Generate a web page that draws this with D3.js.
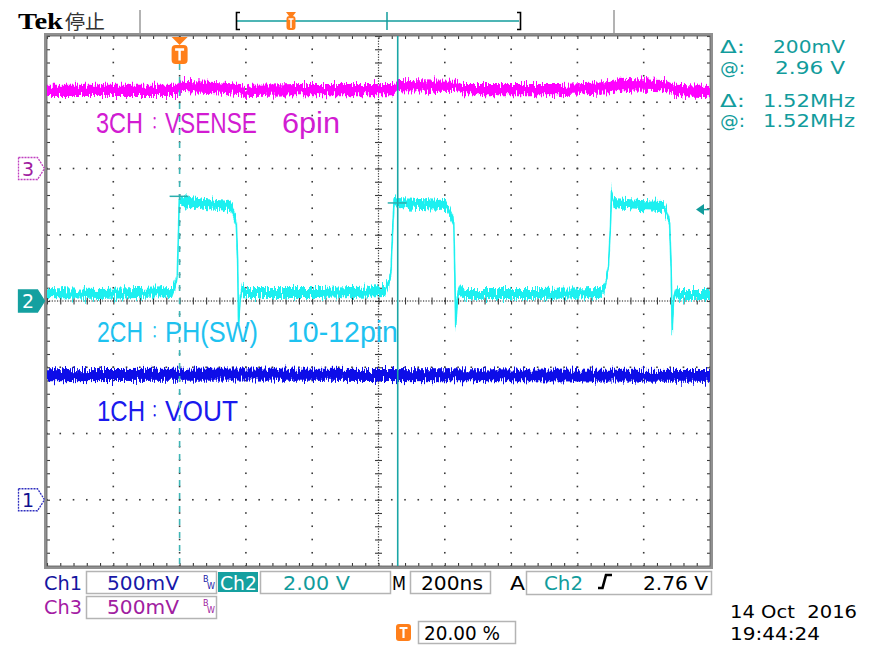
<!DOCTYPE html>
<html lang="ja">
<head>
<meta charset="utf-8">
<title>Tek TDS capture</title>
<script src="https://d3js.org/d3.v7.min.js"></script>
<style>
  html, body { margin: 0; padding: 0; background: #fff; }
  svg { display: block; }
</style>
</head>
<body>
<script>
// horizontal: 200 ns/div, 10 div, trigger position 20 %
const timeDomain = [-400, 1600];   // ns
const divDomain = [-4, 4];

// channel setup (Ch1, Ch2, Ch3) as read on the status bar
const chNames = ['Ch1', 'Ch2', 'Ch3'];
const chVoltsPerDiv = [0.5, 2.0, 0.5];
const chGroundDiv = [-3, 0, 2];
const chNoisePP = [0.09, 0.3, 0.085];   // V, thickness of the noisy trace

// CH2 : PH(SW)
const ch2Time = [-400, -239, -22, -13, -7, -4, -1, 8, 77, 153,
                 162, 171, 175, 178, 183, 189, 201, 424, 620, 632,
                 638, 642, 647, 656, 725, 803, 815, 827, 830, 833,
                 838, 845, 861, 1086, 1267, 1279, 1288, 1294, 1300, 1303,
                 1309, 1388, 1460, 1469, 1478, 1483, 1486, 1490, 1496, 1508,
                 1600];
const ch2Volt = [0.24, 0.21, 0.27, 0.51, 0.75, 1.84, 3.05, 3.02, 2.93, 2.87,
                 2.66, 2.39, 1.24, -0.75, 0.09, 0.36, 0.24, 0.24, 0.30, 0.57,
                 0.94, 1.99, 3.05, 2.96, 2.93, 2.90, 2.66, 2.39, 0.94, -0.82,
                 0.15, 0.33, 0.21, 0.21, 0.24, 0.30, 0.63, 1.09, 2.29, 3.35,
                 2.96, 2.90, 2.87, 2.66, 2.39, 0.94, -0.97, 0.03, 0.27, 0.18,
                 0.18];

// CH3 : VSENSE
const ch3Time = [-400, -5, 4, 108, 183, 201, 219, 364, 647, 659, 830, 851, 1147, 1297, 1327, 1463, 1493, 1600];
const ch3Volt = [0.589, 0.589, 0.619, 0.611, 0.596, 0.574, 0.589, 0.596, 0.596, 0.626, 0.619, 0.596, 0.596, 0.611, 0.634, 0.626, 0.589, 0.581];

// CH1 : VOUT
const ch1Time = [-400, 200, 800, 1600];
const ch1Volt = [0.94, 0.945, 0.94, 0.935];

// cursors (time cursors on Ch2) and trigger
const cursorTimes = [0, 658];         // ns
const cursorHits = [3.16, 2.96];      // V on Ch2 at each cursor
const triggerLevel = 2.76;            // V
const triggerPos = 20.00;             // %

const traceLabels = ['1CH：VOUT', '2CH：PH(SW)　10-12pin', '3CH：VSENSE　6pin'];
const dateLabel = '14 Oct  2016';
const timeLabel = '19:44:24';

const W = 872, H = 645;
const gx0 = 47, gx1 = 710, gy0 = 36, gy1 = 566;

const TEAL = '#129c9c';
const traceColors = ['#0a0ae8', '#1ef0f0', '#ff00ff'];
const labelColors = ['#1a1aee', '#1ec2f0', '#d21cd2'];
const sans = '"DejaVu Sans", "Liberation Sans", sans-serif';

const svg = d3.select('body').append('svg')
    .attr('width', W)
    .attr('height', H)
    .attr('viewBox', `0 0 ${W} ${H}`);

svg.append('rect').attr('width', W).attr('height', H).attr('fill', '#fff');

const defs = svg.append('defs');
const flt = defs.append('filter').attr('id', 'noise')
    .attr('x', '-2%').attr('y', '-60%').attr('width', '104%').attr('height', '220%');
flt.append('feTurbulence').attr('type', 'fractalNoise')
    .attr('baseFrequency', '0.9 0.06').attr('numOctaves', 2).attr('seed', 7).attr('result', 't');
flt.append('feColorMatrix').attr('in', 't').attr('type', 'matrix')
    .attr('values', '1 0 0 0 0  0 0 0 0 0.5  0 0 1 0 0  0 0 0 0 1').attr('result', 'm');
flt.append('feDisplacementMap').attr('in', 'SourceGraphic').attr('in2', 'm')
    .attr('scale', 15).attr('xChannelSelector', 'G').attr('yChannelSelector', 'R');

const x = d3.scaleLinear().domain(timeDomain).range([gx0, gx1]);
const yDiv = d3.scaleLinear().domain(divDomain).range([gy1, gy0]);
const yCh = (i, v) => yDiv(chGroundDiv[i] + v / chVoltsPerDiv[i]);

function txt(g, s, px, py, o) {
    const t = g.append('text')
        .attr('x', px).attr('y', py)
        .attr('font-family', o.family || sans)
        .attr('font-size', o.size || 18)
        .attr('font-weight', o.weight || 'normal')
        .attr('fill', o.fill || '#000')
        .style('white-space', 'pre')
        .text(s);
    if (o.len) t.attr('textLength', o.len).attr('lengthAdjust', 'spacingAndGlyphs');
    if (o.anchor) t.attr('text-anchor', o.anchor);
    return t;
}

//---- top bar
txt(svg, 'Tek', 18, 29, {family: '"Liberation Serif", serif', weight: 'bold', size: 24, len: 45});
txt(svg, '停止', 65, 29, {family: '"Noto Sans CJK JP", sans-serif', size: 19, fill: '#333', len: 40});
svg.append('line').attr('x1', 140).attr('x2', 140).attr('y1', 10).attr('y2', 33).attr('stroke', '#9a9a9a').attr('stroke-width', 1.5);
svg.append('line').attr('x1', 614).attr('x2', 614).attr('y1', 10).attr('y2', 33).attr('stroke', '#9a9a9a').attr('stroke-width', 1.5);
svg.append('line').attr('x1', 237).attr('x2', 519).attr('y1', 21).attr('y2', 21).attr('stroke', TEAL).attr('stroke-width', 1.5);
svg.append('path').attr('d', 'M240,12.5 h-3.5 v17 h3.5').attr('fill', 'none').attr('stroke', '#000').attr('stroke-width', 1.6);
svg.append('path').attr('d', 'M517,12.5 h3.5 v17 h-3.5').attr('fill', 'none').attr('stroke', '#000').attr('stroke-width', 1.6);
svg.append('line').attr('x1', 387).attr('x2', 387).attr('y1', 12).attr('y2', 30).attr('stroke', TEAL).attr('stroke-width', 1.5);
// record view trigger marker
svg.append('path').attr('d', 'M286,12 h10 l-3,4 h-4 z').attr('fill', '#ff7f1a');
svg.append('rect').attr('x', 286.5).attr('y', 16).attr('width', 9).attr('height', 14).attr('rx', 3).attr('fill', '#ff7f1a');
svg.append('path').attr('d', 'M288.5,19 h5 M291,19 v9').attr('stroke', '#fff').attr('stroke-width', 1.5);

//---- graticule
const grid = svg.append('g');
const majorT = d3.range(timeDomain[0], timeDomain[1] + 1, 200);
const minorT = d3.range(timeDomain[0], timeDomain[1] + 1, 40);
const fineT = d3.range(timeDomain[0], timeDomain[1] + 1, 8);
const majorD = d3.range(divDomain[0], divDomain[1] + 0.01, 1);
const minorD = d3.range(divDomain[0], divDomain[1] + 0.01, 0.2).map(d => +d.toFixed(2));
const fineD = d3.range(divDomain[0], divDomain[1] + 0.01, 0.04).map(d => +d.toFixed(2));
const centerT = 600;

const dots = [];
majorT.slice(1, -1).filter(t => t !== centerT).forEach(t => minorD.forEach(d => dots.push([x(t), yDiv(d)])));
majorD.slice(1, -1).filter(d => d !== 0).forEach(d => minorT.forEach(t => dots.push([x(t), yDiv(d)])));
grid.selectAll('rect.dot').data(dots).join('rect')
    .attr('class', 'dot')
    .attr('x', d => d[0] - 0.8).attr('y', d => d[1] - 0.8)
    .attr('width', 1.6).attr('height', 1.6)
    .attr('fill', '#3a3a3a');

// centre cross: dense dotted lines with minor ticks
const fineDots = [];
fineT.forEach(t => fineDots.push([x(t), yDiv(0)]));
fineD.forEach(d => fineDots.push([x(centerT), yDiv(d)]));
grid.selectAll('rect.fine').data(fineDots).join('rect')
    .attr('class', 'fine')
    .attr('x', d => d[0] - 0.6).attr('y', d => d[1] - 0.6)
    .attr('width', 1.2).attr('height', 1.2)
    .attr('fill', '#3a3a3a');

function tickAxis(axis, tx, ty) {
    const g = grid.append('g').attr('transform', `translate(${tx},${ty})`).call(axis);
    g.select('.domain').remove();
    g.selectAll('.tick line').attr('stroke', '#3a3a3a').attr('stroke-width', 1.1);
    g.selectAll('.tick text').remove();
}
tickAxis(d3.axisBottom(x).tickValues(minorT).tickSize(3.5).tickFormat(''), 0, yDiv(0));
tickAxis(d3.axisTop(x).tickValues(minorT).tickSize(3.5).tickFormat(''), 0, yDiv(0));
tickAxis(d3.axisLeft(yDiv).tickValues(minorD).tickSize(3.5).tickFormat(''), x(centerT), 0);
tickAxis(d3.axisRight(yDiv).tickValues(minorD).tickSize(3.5).tickFormat(''), x(centerT), 0);
// border ticks pointing inwards
tickAxis(d3.axisBottom(x).tickValues(minorT).tickSize(3).tickFormat(''), 0, gy0);
tickAxis(d3.axisTop(x).tickValues(minorT).tickSize(3).tickFormat(''), 0, gy1);
tickAxis(d3.axisRight(yDiv).tickValues(minorD).tickSize(3).tickFormat(''), gx0, 0);
tickAxis(d3.axisLeft(yDiv).tickValues(minorD).tickSize(3).tickFormat(''), gx1, 0);

// frame
grid.append('rect')
    .attr('x', gx0 - 1.5).attr('y', gy0 - 1.5)
    .attr('width', gx1 - gx0 + 3).attr('height', gy1 - gy0 + 3)
    .attr('fill', 'none').attr('stroke', '#909090').attr('stroke-width', 3);
grid.append('rect')
    .attr('x', gx0).attr('y', gy0)
    .attr('width', gx1 - gx0).attr('height', gy1 - gy0)
    .attr('fill', 'none').attr('stroke', '#5a5a5a').attr('stroke-width', 0.8);

//---- traces
const series = [
    {ch: 2, t: ch3Time, v: ch3Volt},
    {ch: 1, t: ch2Time, v: ch2Volt},
    {ch: 0, t: ch1Time, v: ch1Volt}
];
series.forEach(s => {
    const pts = s.t.map((t, i) => [t, s.v[i]]);
    const half = chNoisePP[s.ch] / 2;
    const area = d3.area()
        .x(d => x(d[0]))
        .y0(d => yCh(s.ch, d[1] - half))
        .y1(d => yCh(s.ch, d[1] + half));
    const line = d3.line().x(d => x(d[0])).y(d => yCh(s.ch, d[1]));
    const g = svg.append('g').attr('filter', 'url(#noise)');
    g.append('path').attr('d', area(pts)).attr('fill', traceColors[s.ch]);
    g.append('path').attr('d', line(pts)).attr('fill', 'none')
        .attr('stroke', traceColors[s.ch]).attr('stroke-width', 1.6);
});

//---- trace annotations (narrow scope font: squeeze the whole line, then place each word)
const labelY = [421, 342, 133];
const squeeze = 0.78;
const labelParts = [
    [[97, 48], [148, 0], [165, 73]],
    [[97, 46], [148, 0], [165, 93], null, [287, 111]],
    [[96, 47], [148, 0], [165, 92], null, [282, 58]]
];
[2, 1, 0].forEach(i => {
    const t = svg.append('text')
        .attr('transform', `scale(${squeeze},1)`)
        .attr('y', labelY[i])
        .attr('font-family', '"Liberation Sans", "Noto Sans CJK JP", sans-serif')
        .attr('font-size', 30)
        .attr('fill', labelColors[i])
        .style('white-space', 'pre');
    let lift = 0;
    traceLabels[i].split(/(：|　)/).forEach((part, k) => {
        const ts = t.append('tspan').text(part);
        const p = labelParts[i][k];
        if (p) ts.attr('x', p[0] / squeeze);
        if (p && p[1]) ts.attr('textLength', p[1] / squeeze).attr('lengthAdjust', 'spacingAndGlyphs');
        // full-width colon / space drawn smaller so they fit the narrow gap
        if (part === '：' || part === '　') ts.attr('font-size', 17);
        const want = part === '：' ? -4 : 0;
        if (want !== lift) { ts.attr('dy', want - lift); lift = want; }
    });
});

//---- cursors
svg.append('line')
    .attr('x1', x(cursorTimes[0])).attr('x2', x(cursorTimes[0]))
    .attr('y1', gy0 + 28).attr('y2', gy1)
    .attr('stroke', '#3fb5b5').attr('stroke-width', 1.6).attr('stroke-dasharray', '6 7');
svg.append('line')
    .attr('x1', x(cursorTimes[1])).attr('x2', x(cursorTimes[1]))
    .attr('y1', gy0).attr('y2', gy1)
    .attr('stroke', '#1aa6a6').attr('stroke-width', 1.6);
cursorTimes.forEach((t, i) => {
    svg.append('line')
        .attr('x1', x(t) - 10).attr('x2', x(t) + 9)
        .attr('y1', yCh(1, cursorHits[i])).attr('y2', yCh(1, cursorHits[i]))
        .attr('stroke', '#2aaeae').attr('stroke-width', 1.5);
});

// trigger position marker
const tx = x(0);
svg.append('path').attr('d', `M${tx - 8},${gy0 + 1} h16 l-8,8 z`).attr('fill', '#ff7f1a');
svg.append('rect').attr('x', tx - 8).attr('y', gy0 + 9).attr('width', 16).attr('height', 19).attr('rx', 4).attr('fill', '#ff7f1a');
svg.append('path').attr('d', `M${tx - 4.5},${gy0 + 13.5} h9 M${tx},${gy0 + 13.5} v11`).attr('stroke', '#fff').attr('stroke-width', 2.4);

// trigger level arrow
const ty = yCh(1, triggerLevel);
svg.append('path').attr('d', `M${gx1 - 14},${ty} l8,-5.5 v11 z`).attr('fill', TEAL);
svg.append('line').attr('x1', gx1 - 7).attr('x2', gx1 - 1).attr('y1', ty).attr('y2', ty).attr('stroke', TEAL).attr('stroke-width', 1.5);

// channel ground markers
function marker(i, filled, stroke, textFill) {
    const cy = yDiv(chGroundDiv[i]);
    const d = `M18.5,${cy - 11} h19 l7,11 l-7,11 h-19 z`;
    svg.append('path').attr('d', d)
        .attr('fill', filled ? stroke : '#fff')
        .attr('stroke', stroke).attr('stroke-width', 1.3)
        .attr('stroke-dasharray', filled ? null : '2 1');
    txt(svg, String(i + 1), 28, cy + 7, {size: 19, fill: textFill, anchor: 'middle'});
}
marker(2, false, '#c040c0', '#a020a0');
marker(1, true, '#14a0a0', '#fff');
marker(0, false, '#3030c0', '#101090');

//---- cursor readouts
const fmtV = d3.format('.2f');
const dV = Math.round((cursorHits[0] - cursorHits[1]) * 1000);
const dF = 1e3 / (cursorTimes[1] - cursorTimes[0]);
const aF = 1e3 / (cursorTimes[1]);
const ro = [
    ['Δ:', dV + 'mV', 53, 773, 72],
    ['@:', fmtV(cursorHits[1]) + ' V', 74, 775, 70],
    ['Δ:', fmtV(dF) + 'MHz', 107, 763, 92],
    ['@:', fmtV(aF) + 'MHz', 127, 763, 92]
];
ro.forEach(r => {
    txt(svg, r[0], 720, r[2], {size: 18, fill: TEAL, len: 25});
    txt(svg, r[1], r[3], r[2], {size: 18, fill: TEAL, len: r[4]});
});

//---- status bar
const box = (bx, by, bw, bh) => svg.append('rect')
    .attr('x', bx).attr('y', by).attr('width', bw).attr('height', bh)
    .attr('fill', 'none').attr('stroke', '#b4b4b4').attr('stroke-width', 1.5);
const bw = (bx, by, col) => {
    txt(svg, 'B', bx, by, {size: 8, fill: col});
    txt(svg, 'W', bx + 4, by + 7, {size: 8, fill: col});
};
const fmtDiv = v => v < 1 ? (v * 1000) + 'mV' : fmtV(v) + ' V';

txt(svg, chNames[0], 44, 590, {size: 20, fill: '#1616a0', len: 38});
box(86.5, 571.5, 130, 22);
txt(svg, fmtDiv(chVoltsPerDiv[0]), 107, 590, {size: 20, fill: '#1818a8', len: 72});
bw(203, 582, '#1818a8');

svg.append('rect').attr('x', 218).attr('y', 572).attr('width', 40).attr('height', 20).attr('fill', '#15a0a0');
txt(svg, chNames[1], 220, 590, {size: 20, fill: '#fff', len: 37});
box(260.5, 571.5, 130, 22);
txt(svg, fmtDiv(chVoltsPerDiv[1]), 283, 590, {size: 20, fill: TEAL, len: 67});

txt(svg, 'M', 392, 590, {size: 20, len: 14});
box(410.5, 571.5, 80, 22);
txt(svg, '200ns', 421, 590, {size: 20, len: 62});

txt(svg, 'A', 510, 590, {size: 20, len: 15});
box(526.5, 571.5, 185, 23);
txt(svg, chNames[1], 544, 590, {size: 20, fill: TEAL, len: 39});
svg.append('path').attr('d', 'M598,588 h4.5 l3.5,-13 h6').attr('fill', 'none').attr('stroke', '#000').attr('stroke-width', 2.6);
txt(svg, fmtV(triggerLevel) + ' V', 643, 590, {size: 20, len: 65});

txt(svg, chNames[2], 44, 614, {size: 20, fill: '#a41ca4', len: 38});
box(86.5, 596.5, 130, 22);
txt(svg, fmtDiv(chVoltsPerDiv[2]), 107, 614, {size: 20, fill: '#a020a0', len: 72});
bw(203, 606, '#a020a0');

svg.append('rect').attr('x', 396).attr('y', 624).attr('width', 15).attr('height', 17).attr('rx', 3).attr('fill', '#ff7f1a');
svg.append('path').attr('d', 'M399.5,628 h8 M403.5,628 v10').attr('stroke', '#fff').attr('stroke-width', 2.2);
box(418.5, 621.5, 97, 22);
txt(svg, fmtV(triggerPos) + ' %', 424, 640, {size: 20, len: 76});

txt(svg, dateLabel, 730, 618, {size: 18, len: 127});
txt(svg, timeLabel, 730, 640, {size: 18, len: 90});
</script>
</body>
</html>
